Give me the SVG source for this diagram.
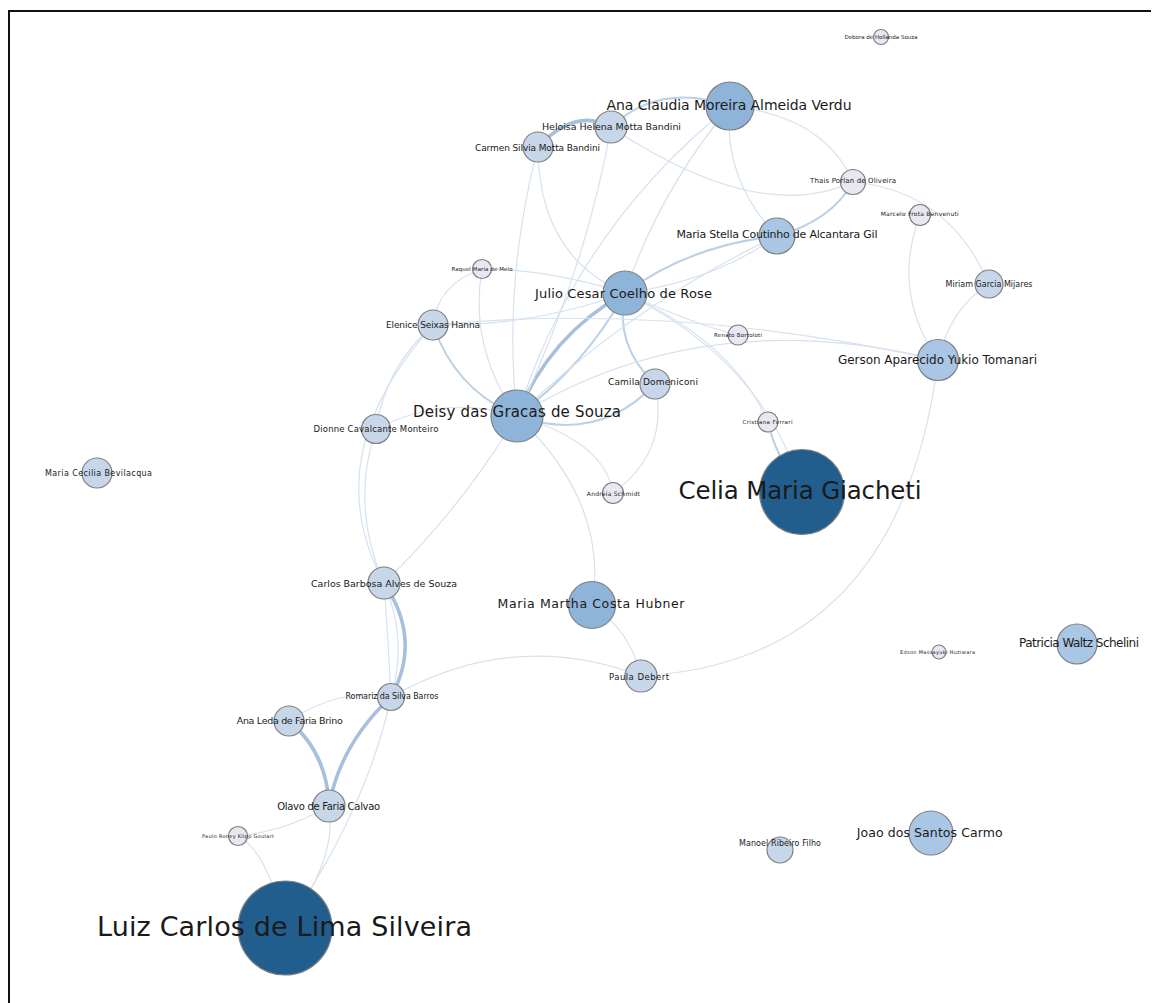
<svg xmlns="http://www.w3.org/2000/svg" width="1159" height="1003" viewBox="0 0 1159 1003">
  <style>
    .e1 { fill: none; stroke: #d6e2ef; stroke-width: 1.2; stroke-linecap: round; }
    .e2 { fill: none; stroke: #bcd0e5; stroke-width: 2; stroke-linecap: round; }
    .e3 { fill: none; stroke: #a7c0dc; stroke-width: 3.6; stroke-linecap: round; }
    .node circle { stroke: #7f7f7f; stroke-width: 1.2; }
    .dark { fill: #215e8e; }
    .mid { fill: #8fb4d9; }
    .soft { fill: #a9c6e4; }
    .light { fill: #c8d6ea; }
    .pale { fill: #e8e7f2; }
    .node text { font-family: "DejaVu Sans", "Liberation Sans", sans-serif; fill: #1a1a1a; text-anchor: middle; dominant-baseline: central; }
  </style>

  <rect x="0" y="0" width="1159" height="1003" fill="#ffffff"/>
  <!-- frame -->
  <line x1="9" y1="11" x2="1151" y2="11" stroke="#111" stroke-width="2"/>
  <line x1="9" y1="10" x2="9" y2="1003" stroke="#111" stroke-width="2"/>

  <g id="links">
    <path class="e3" d="M538,147 Q575.5,107 611,127"/>
    <path class="e2" d="M611,127 Q659.5,81.5 730,106"/>
    <path class="e1" d="M730,106 Q824.5,116 853,182"/>
    <path class="e1" d="M611,127 Q758,225.5 853,182"/>
    <path class="e1" d="M730,106 Q722.5,179 777,236"/>
    <path class="e2" d="M853,182 Q831,221 777,236"/>
    <path class="e1" d="M853,182 Q949,191 989,284"/>
    <path class="e1" d="M920,215 Q891,292.5 938,360"/>
    <path class="e1" d="M989,284 Q950.5,308 938,360"/>
    <path class="e2" d="M625,293 Q689,245.5 777,236"/>
    <path class="e1" d="M625,293 Q713,281.5 777,236"/>
    <path class="e1" d="M625,293 Q658.5,192.5 730,106"/>
    <path class="e3" d="M517,416 Q549,335.5 625,293"/>
    <path class="e2" d="M517,416 Q585,365.5 625,293"/>
    <path class="e2" d="M625,293 Q614,345.5 655,384"/>
    <path class="e2" d="M517,416 Q598,444 655,384"/>
    <path class="e1" d="M655,384 Q670,451.5 613,493"/>
    <path class="e1" d="M517,416 Q605,441.5 613,493"/>
    <path class="e1" d="M517,416 Q609.5,503.5 592,605"/>
    <path class="e1" d="M625,293 Q766.5,363.5 802,492"/>
    <path class="e1" d="M625,293 Q733.5,342.5 768,422"/>
    <path class="e2" d="M768,422 Q775,455 802,492"/>
    <path class="e1" d="M625,293 Q698.5,326 738,335"/>
    <path class="e1" d="M433,325 Q674.5,301.5 938,360"/>
    <path class="e1" d="M517,416 Q702.5,302 938,360"/>
    <path class="e2" d="M433,325 Q455,389.5 517,416"/>
    <path class="e1" d="M433,325 Q531,327 625,293"/>
    <path class="e1" d="M482,269 Q546.5,269 625,293"/>
    <path class="e1" d="M482,269 Q438.5,283 433,325"/>
    <path class="e1" d="M482,269 Q468.5,347.5 517,416"/>
    <path class="e1" d="M538,147 Q538.5,256 625,293"/>
    <path class="e1" d="M538,147 Q502.5,282.5 517,416"/>
    <path class="e1" d="M611,127 Q586,268.5 517,416"/>
    <path class="e1" d="M730,106 Q576.5,229 517,416"/>
    <path class="e1" d="M777,236 Q633,304 517,416"/>
    <path class="e1" d="M517,416 Q445.5,393.5 376,429"/>
    <path class="e1" d="M376,429 Q350,506 384,583"/>
    <path class="e1" d="M433,325 Q315.5,456 384,583"/>
    <path class="e1" d="M517,416 Q459.5,510.5 384,583"/>
    <path class="e1" d="M376,429 Q385.5,367 433,325"/>
    <path class="e1" d="M384,583 Q388.5,640 391,697"/>
    <path class="e1" d="M384,583 Q408.5,640 391,697"/>
    <path class="e3" d="M384,583 Q422.5,640 391,697"/>
    <path class="e1" d="M391,697 Q340,687 289,721"/>
    <path class="e3" d="M391,697 Q340,744.5 329,806"/>
    <path class="e3" d="M289,721 Q327,752.5 329,806"/>
    <path class="e1" d="M391,697 Q366,811.5 285,928"/>
    <path class="e1" d="M329,806 Q338,860 285,928"/>
    <path class="e1" d="M238,836 Q286.5,831 329,806"/>
    <path class="e1" d="M238,836 Q268,852 285,928"/>
    <path class="e1" d="M391,697 Q514,627.5 641,676"/>
    <path class="e1" d="M592,605 Q630,630 641,676"/>
    <path class="e1" d="M938,360 Q900.5,662 641,676"/>
  </g>

  <g id="n-debora" class="node"><circle class="pale" cx="881" cy="37" r="7.5"/><text x="881" y="37" font-size="5.5" textLength="73">Debora de Hollanda Souza</text></g>
  <g id="n-heloisa" class="node"><circle class="light" cx="611" cy="127" r="16"/><text x="611.5" y="126" font-size="9.5" textLength="139">Heloisa Helena Motta Bandini</text></g>
  <g id="n-carmen" class="node"><circle class="light" cx="538" cy="147" r="15"/><text x="537.5" y="147.5" font-size="9" textLength="125">Carmen Silvia Motta Bandini</text></g>
  <g id="n-ana-claudia" class="node"><circle class="mid" cx="730" cy="106" r="24"/><text x="729" y="104.5" font-size="14" textLength="245">Ana Claudia Moreira Almeida Verdu</text></g>
  <g id="n-thais" class="node"><circle class="pale" cx="853" cy="182" r="12.5"/><text x="853" y="180.7" font-size="7" textLength="86">Thais Porlan de Oliveira</text></g>
  <g id="n-marcelo" class="node"><circle class="pale" cx="920" cy="215" r="10.5"/><text x="919.7" y="213.3" font-size="6" textLength="78">Marcelo Frota Benvenuti</text></g>
  <g id="n-maria-stella" class="node"><circle class="soft" cx="777" cy="236" r="18"/><text x="777" y="234.3" font-size="11" textLength="201">Maria Stella Coutinho de Alcantara Gil</text></g>
  <g id="n-miriam" class="node"><circle class="light" cx="989" cy="284" r="14"/><text x="989" y="284" font-size="8" textLength="87">Miriam Garcia Mijares</text></g>
  <g id="n-raquel" class="node"><circle class="pale" cx="482" cy="269" r="9.5"/><text x="482" y="269.3" font-size="5.5" textLength="61">Raquel Maria de Melo</text></g>
  <g id="n-elenice" class="node"><circle class="light" cx="433" cy="325" r="15"/><text x="433" y="325" font-size="9" textLength="94">Elenice Seixas Hanna</text></g>
  <g id="n-julio" class="node"><circle class="mid" cx="625" cy="293" r="22"/><text x="623.5" y="293.3" font-size="13" textLength="177">Julio Cesar Coelho de Rose</text></g>
  <g id="n-renato" class="node"><circle class="pale" cx="738" cy="335" r="10"/><text x="738" y="335" font-size="5.5" textLength="48">Renato Bortoloti</text></g>
  <g id="n-gerson" class="node"><circle class="soft" cx="938" cy="360" r="20.5"/><text x="937.5" y="360" font-size="12" textLength="199">Gerson Aparecido Yukio Tomanari</text></g>
  <g id="n-camila" class="node"><circle class="light" cx="655" cy="384" r="15"/><text x="653" y="382" font-size="9" textLength="90">Camila Domeniconi</text></g>
  <g id="n-dionne" class="node"><circle class="light" cx="376" cy="429" r="14.5"/><text x="376" y="429.3" font-size="8.5" textLength="125">Dionne Cavalcante Monteiro</text></g>
  <g id="n-deisy" class="node"><circle class="mid" cx="517" cy="416" r="26"/><text x="517" y="412.3" font-size="15" textLength="208">Deisy das Gracas de Souza</text></g>
  <g id="n-cristiana" class="node"><circle class="pale" cx="768" cy="422" r="10"/><text x="767.5" y="422.3" font-size="5.5" textLength="50">Cristiana Ferrari</text></g>
  <g id="n-cecilia" class="node"><circle class="light" cx="97" cy="473" r="15"/><text x="98.5" y="473" font-size="8" textLength="107">Maria Cecilia Bevilacqua</text></g>
  <g id="n-andreia" class="node"><circle class="pale" cx="613" cy="493" r="10.5"/><text x="613.3" y="493.3" font-size="6" textLength="53">Andreia Schmidt</text></g>
  <g id="n-celia" class="node"><circle class="dark" cx="802" cy="492" r="42.5"/><text x="800" y="490" font-size="24.5" textLength="243">Celia Maria Giacheti</text></g>
  <g id="n-carlos" class="node"><circle class="light" cx="384" cy="583" r="16"/><text x="384" y="583.3" font-size="9.5" textLength="146">Carlos Barbosa Alves de Souza</text></g>
  <g id="n-maria-martha" class="node"><circle class="mid" cx="592" cy="605" r="23.5"/><text x="591" y="603.3" font-size="12.5" textLength="187">Maria Martha Costa Hubner</text></g>
  <g id="n-paula" class="node"><circle class="light" cx="641" cy="676" r="16"/><text x="639" y="677.3" font-size="8.5" textLength="60">Paula Debert</text></g>
  <g id="n-edson" class="node"><circle class="pale" cx="939" cy="652" r="7"/><text x="937.5" y="652.3" font-size="5" textLength="75">Edson Massayuki Huziwara</text></g>
  <g id="n-patricia" class="node"><circle class="soft" cx="1077" cy="644" r="20"/><text x="1079" y="643.3" font-size="12" textLength="120">Patricia Waltz Schelini</text></g>
  <g id="n-romariz" class="node"><circle class="light" cx="391" cy="697" r="13.5"/><text x="392" y="696.7" font-size="8" textLength="93">Romariz da Silva Barros</text></g>
  <g id="n-ana-leda" class="node"><circle class="light" cx="289" cy="721" r="15"/><text x="289.7" y="720" font-size="9.5" textLength="106">Ana Leda de Faria Brino</text></g>
  <g id="n-olavo" class="node"><circle class="light" cx="329" cy="806" r="16"/><text x="328.7" y="806" font-size="10" textLength="103">Olavo de Faria Calvao</text></g>
  <g id="n-paulo" class="node"><circle class="pale" cx="238" cy="836" r="9.5"/><text x="238" y="836" font-size="5" textLength="72">Paulo Roney Kilpp Goulart</text></g>
  <g id="n-manoel" class="node"><circle class="light" cx="780" cy="850" r="13"/><text x="780" y="843" font-size="8" textLength="82">Manoel Ribeiro Filho</text></g>
  <g id="n-joao" class="node"><circle class="soft" cx="931" cy="833" r="22"/><text x="929.7" y="832.3" font-size="12.5" textLength="146">Joao dos Santos Carmo</text></g>
  <g id="n-luiz" class="node"><circle class="dark" cx="285" cy="928" r="47"/><text x="284.5" y="926" font-size="27" textLength="375">Luiz Carlos de Lima Silveira</text></g>
</svg>
